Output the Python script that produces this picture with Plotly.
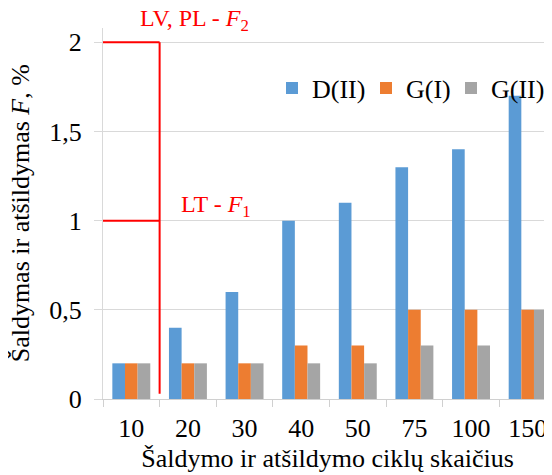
import plotly.graph_objects as go

categories = ["10", "20", "30", "40", "50", "75", "100", "150"]
d_ii = [0.2, 0.4, 0.6, 1.0, 1.1, 1.3, 1.4, 1.7]
g_i = [0.2, 0.2, 0.2, 0.3, 0.3, 0.5, 0.5, 0.5]
g_ii = [0.2, 0.2, 0.2, 0.2, 0.2, 0.3, 0.3, 0.5]
series_names = ["D(II)", "G(I)", "G(II)"]
colors = ["#5B9BD5", "#ED7D31", "#A5A5A5"]
legend_widths = [49, 40, 56]
y_ticks = [0, 0.5, 1, 1.5, 2]
y_tick_labels = ["0", "0,5", "1", "1,5", "2"]
limit_f2 = 2.0
limit_f1 = 1.0

FONT = "Liberation Serif"
FS = 26

fig = go.Figure()
for name, vals, col, lw in zip(series_names, [d_ii, g_i, g_ii], colors, legend_widths):
    fig.add_trace(go.Bar(x=categories, y=vals, name=name, marker_color=col,
                         marker_line_width=0, legendwidth=lw))

red = "#FF0000"
fig.add_shape(type="line", xref="x", yref="y", x0=-0.5, x1=0.5, y0=limit_f2, y1=limit_f2,
              line=dict(color=red, width=2))
fig.add_shape(type="line", xref="x", yref="y", x0=-0.5, x1=0.5, y0=limit_f1, y1=limit_f1,
              line=dict(color=red, width=2))
fig.add_shape(type="line", xref="x", yref="y", x0=0.5, x1=0.5, y0=0.03, y1=limit_f2,
              line=dict(color=red, width=2))

fig.add_annotation(x=0.5, y=1.0, xref="x", yref="paper", yanchor="middle", xanchor="center",
                   xshift=35, yshift=8, text="LV, PL - <i>F</i><sub>2</sub>", showarrow=False,
                   font=dict(family=FONT, size=24, color=red))
fig.add_annotation(x=0.5, y=limit_f1, xref="x", yref="y", yanchor="bottom", xanchor="left",
                   xshift=19, yshift=-2, text="LT - <i>F</i><sub>1</sub>", showarrow=False,
                   font=dict(family=FONT, size=24, color=red))

fig.add_annotation(x=-0.183, y=0.5, xref="paper", yref="paper", textangle=-90,
                   xanchor="center", yanchor="middle",
                   text="Šaldymas ir atšildymas <i>F</i>, %", showarrow=False,
                   font=dict(family=FONT, size=FS, color="black"))

fig.update_layout(
    width=544, height=467,
    margin=dict(l=95, r=0, t=20, b=76, autoexpand=False),
    paper_bgcolor="white", plot_bgcolor="white",
    font=dict(family=FONT, size=FS, color="black"),
    barmode="group", bargap=0.33, bargroupgap=0,
    showlegend=True,
    legend=dict(orientation="h", x=1.0, xanchor="right", y=0.838, yanchor="middle",
                font=dict(family=FONT, size=FS), bgcolor="rgba(0,0,0,0)",
                itemwidth=30, tracegroupgap=0, borderwidth=0),
)
fig.update_xaxes(range=[-0.5, 7.43], tickson="boundaries", ticks="outside", ticklen=7,
                 tickcolor="#D0D0D0", showline=True, linecolor="#D0D0D0", linewidth=1,
                 showgrid=False, automargin=False, ticklabelstandoff=6,
                 title=dict(text="Šaldymo ir atšildymo ciklų skaičius", standoff=6,
                            font=dict(family=FONT, size=FS)),
                 tickfont=dict(family=FONT, size=FS))
fig.update_yaxes(range=[0, 2.08], tickvals=y_ticks, ticktext=y_tick_labels,
                 showgrid=True, gridcolor="#D9D9D9", gridwidth=1, automargin=False,
                 showline=True, linecolor="#D9D9D9", ticks="outside", ticklen=8,
                 tickcolor="#D9D9D9", zeroline=False, ticklabelstandoff=7,
                 tickfont=dict(family=FONT, size=FS))

fig.write_html("out.html")
